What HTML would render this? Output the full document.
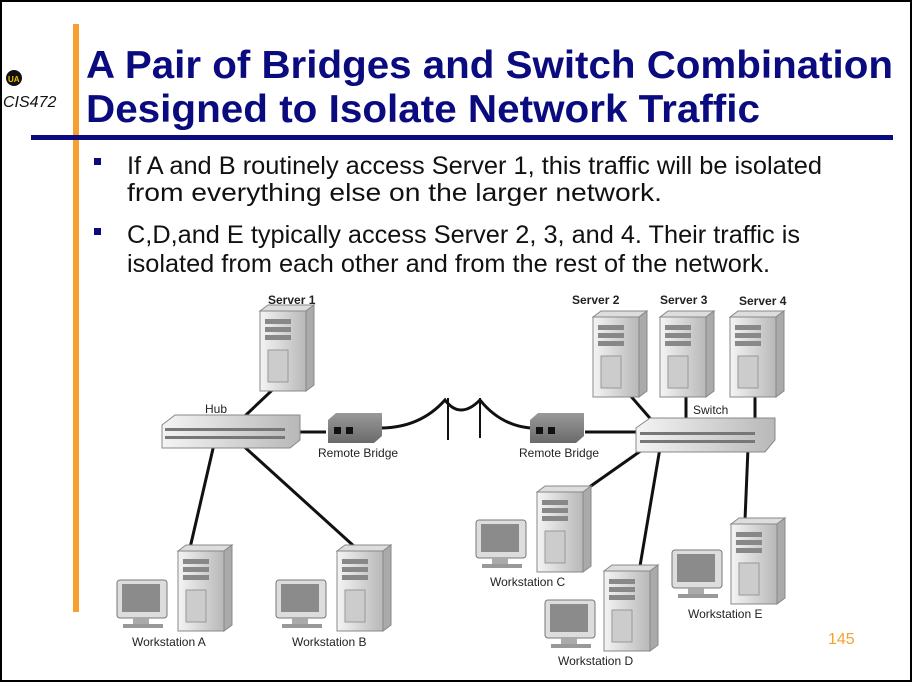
<!DOCTYPE html>
<html><head><meta charset="utf-8"><style>
body{margin:0;width:912px;height:682px;overflow:hidden;background:#fff;font-family:"Liberation Sans",sans-serif}
</style></head><body>
<svg width="912" height="682" viewBox="0 0 912 682" xmlns="http://www.w3.org/2000/svg" font-family="Liberation Sans, sans-serif">
<defs>
<linearGradient id="g" x1="0" y1="0" x2="1" y2="0"><stop offset="0" stop-color="#f4f4f4"/><stop offset="1" stop-color="#b8b8b8"/></linearGradient>
<linearGradient id="d" x1="0" y1="0" x2="0" y2="1"><stop offset="0" stop-color="#999"/><stop offset="1" stop-color="#6a6a6a"/></linearGradient>
<g id="tower"><rect x="0" y="6" width="46" height="80" fill="url(#g)" stroke="#888"/><polygon points="0,6 8,0 54,0 46,6" fill="#ddd" stroke="#888"/><polygon points="46,6 54,0 54,80 46,86" fill="#aaa" stroke="#888"/><rect x="5" y="14" width="26" height="5" fill="#888"/><rect x="5" y="22" width="26" height="5" fill="#888"/><rect x="5" y="30" width="26" height="5" fill="#888"/><rect x="8" y="45" width="20" height="32" fill="#ccc" stroke="#999"/></g>
<g id="mon"><rect x="0" y="0" width="50" height="38" rx="3" fill="#ddd" stroke="#777"/><rect x="5" y="4" width="38" height="28" fill="#8b8b8b"/><rect x="16" y="38" width="16" height="6" fill="#aaa"/><rect x="6" y="44" width="40" height="4" fill="#999"/></g>
</defs>
<rect x="1" y="1" width="910" height="680" fill="none" stroke="#000" stroke-width="2"/>
<rect x="73" y="24" width="6" height="588" fill="#f7a030"/>
<rect x="31" y="135" width="862" height="5" fill="#0b0b80"/>
<circle cx="14" cy="78" r="8" fill="#111"/><text x="8" y="82" font-size="8" fill="#f5c000" font-weight="bold">UA</text>
<text x="3" y="107" font-size="16" font-style="italic" fill="#111">CIS472</text>
<text x="86" y="78" font-size="39" font-weight="bold" fill="#0b0b80" textLength="807" lengthAdjust="spacingAndGlyphs">A Pair of Bridges and Switch Combination</text>
<text x="86" y="122" font-size="39" font-weight="bold" fill="#0b0b80" textLength="674" lengthAdjust="spacingAndGlyphs">Designed to Isolate Network Traffic</text>
<g font-size="25" fill="#111">
<rect x="94" y="158" width="7" height="7" fill="#0b0b80"/>
<text x="127" y="174" textLength="695" lengthAdjust="spacingAndGlyphs">If A and B routinely access Server 1, this traffic will be isolated</text>
<text x="127" y="201" textLength="535" lengthAdjust="spacingAndGlyphs">from everything else on the larger network.</text>
<rect x="94" y="228" width="7" height="7" fill="#0b0b80"/>
<text x="127" y="243" textLength="673" lengthAdjust="spacingAndGlyphs">C,D,and E typically access Server 2, 3, and 4. Their traffic is</text>
<text x="127" y="272" textLength="643" lengthAdjust="spacingAndGlyphs">isolated from each other and from the rest of the network.</text>
</g>
<g stroke="#111" stroke-width="3" fill="none">
<line x1="285" y1="378" x2="228" y2="432"/><line x1="228" y1="432" x2="356" y2="548"/>
<line x1="215" y1="440" x2="190" y2="548"/>
<line x1="300" y1="432" x2="326" y2="432"/><line x1="585" y1="432" x2="636" y2="432"/>
<path d="M380 428 Q420 428 445 400 Q460 420 480 400 Q500 425 530 428"/>
<line x1="615" y1="378" x2="662" y2="432"/><line x1="686" y1="378" x2="686" y2="432"/><line x1="755" y1="378" x2="755" y2="432"/>
<line x1="652" y1="443" x2="588" y2="488"/><line x1="660" y1="448" x2="640" y2="566"/><line x1="748" y1="448" x2="745" y2="520"/>
<line x1="448" y1="398" x2="448" y2="440" stroke-width="2"/><line x1="480" y1="398" x2="480" y2="438" stroke-width="2"/>
</g>
<use href="#tower" x="260" y="305"/><use href="#tower" x="593" y="311"/><use href="#tower" x="660" y="311"/><use href="#tower" x="730" y="311"/>
<polygon points="162,425 175,415 300,415 300,440 290,448 162,448" fill="url(#g)" stroke="#888"/><rect x="165" y="428" width="120" height="3" fill="#777"/><rect x="165" y="436" width="120" height="3" fill="#777"/>
<polygon points="636,428 650,418 775,418 775,440 765,452 636,452" fill="url(#g)" stroke="#888"/><rect x="640" y="432" width="115" height="3" fill="#777"/><rect x="640" y="440" width="115" height="3" fill="#777"/>
<g><polygon points="328,420 336,413 382,413 382,436 374,443 328,443" fill="url(#d)"/><rect x="334" y="427" width="7" height="7" fill="#111"/><rect x="346" y="427" width="7" height="7" fill="#111"/></g>
<g><polygon points="530,420 538,413 584,413 584,436 576,443 530,443" fill="url(#d)"/><rect x="536" y="427" width="7" height="7" fill="#111"/><rect x="548" y="427" width="7" height="7" fill="#111"/></g>
<use href="#tower" x="178" y="545"/><use href="#mon" x="117" y="580"/>
<use href="#tower" x="337" y="545"/><use href="#mon" x="276" y="580"/>
<use href="#tower" x="537" y="486"/><use href="#mon" x="476" y="520"/>
<use href="#tower" x="604" y="565"/><use href="#mon" x="545" y="600"/>
<use href="#tower" x="731" y="518"/><use href="#mon" x="672" y="550"/>
<g font-size="12" fill="#222">
<text x="268" y="304" font-weight="bold">Server 1</text><text x="572" y="304" font-weight="bold">Server 2</text><text x="660" y="304" font-weight="bold">Server 3</text><text x="739" y="305" font-weight="bold">Server 4</text>
<text x="205" y="413">Hub</text><text x="693" y="414">Switch</text>
<text x="318" y="457">Remote Bridge</text><text x="519" y="457">Remote Bridge</text>
<text x="132" y="646">Workstation A</text><text x="292" y="646">Workstation B</text><text x="490" y="586">Workstation C</text><text x="558" y="665">Workstation D</text><text x="688" y="618">Workstation E</text>
</g>
<text x="828" y="644" font-size="16" fill="#f7a030">145</text>
</svg>
</body></html>
